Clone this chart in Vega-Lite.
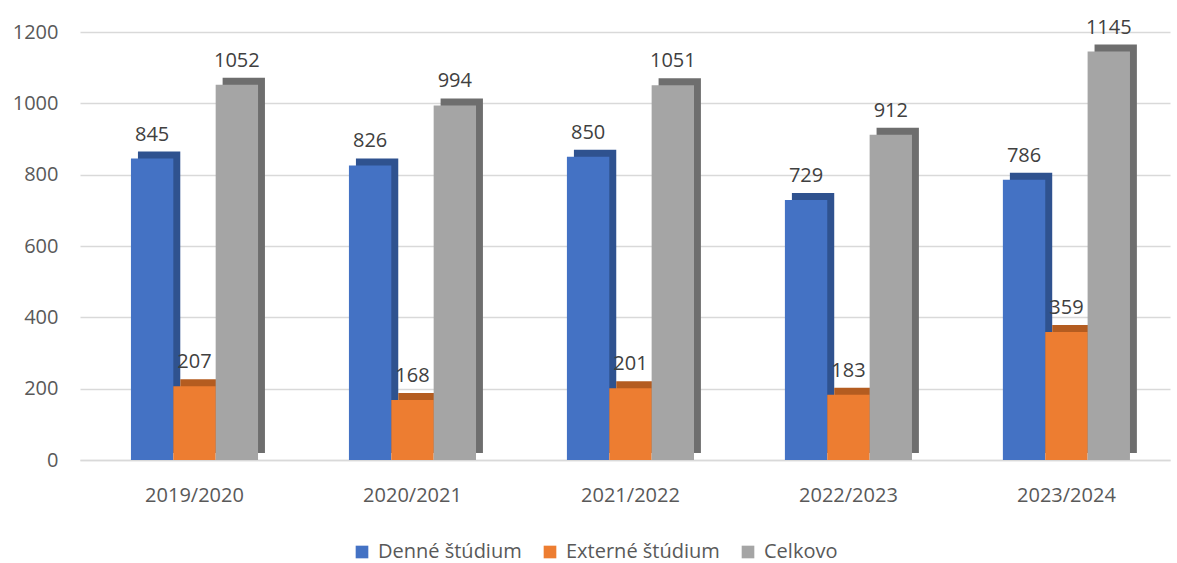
{
  "$schema": "https://vega.github.io/schema/vega-lite/v6.json",
  "width": 1090,
  "height": 428,
  "autosize": {"type": "none"},
  "padding": {"left": 80, "top": 32, "right": 7, "bottom": 103},
  "background": "white",
  "config": {
    "view": {"stroke": null},
    "font": "Open Sans"
  },
  "data": {
    "values": [
      {"rok": "2019/2020", "typ": "Denné štúdium", "pocet": 845},
      {"rok": "2019/2020", "typ": "Externé štúdium", "pocet": 207},
      {"rok": "2019/2020", "typ": "Celkovo", "pocet": 1052},
      {"rok": "2020/2021", "typ": "Denné štúdium", "pocet": 826},
      {"rok": "2020/2021", "typ": "Externé štúdium", "pocet": 168},
      {"rok": "2020/2021", "typ": "Celkovo", "pocet": 994},
      {"rok": "2021/2022", "typ": "Denné štúdium", "pocet": 850},
      {"rok": "2021/2022", "typ": "Externé štúdium", "pocet": 201},
      {"rok": "2021/2022", "typ": "Celkovo", "pocet": 1051},
      {"rok": "2022/2023", "typ": "Denné štúdium", "pocet": 729},
      {"rok": "2022/2023", "typ": "Externé štúdium", "pocet": 183},
      {"rok": "2022/2023", "typ": "Celkovo", "pocet": 912},
      {"rok": "2023/2024", "typ": "Denné štúdium", "pocet": 786},
      {"rok": "2023/2024", "typ": "Externé štúdium", "pocet": 359},
      {"rok": "2023/2024", "typ": "Celkovo", "pocet": 1145}
    ]
  },
  "encoding": {
    "x": {
      "field": "rok", "type": "nominal", "title": null,
      "scale": {"paddingInner": 0.417, "paddingOuter": 0.2087, "align": 0.56},
      "axis": {"labelAngle": 0, "labelFontSize": 20, "labelColor": "#595959", "labelPadding": 25, "ticks": false, "domainColor": "#D9D9D9", "domainWidth": 1.5}
    },
    "y": {
      "field": "pocet", "type": "quantitative", "title": null,
      "scale": {"domain": [0, 1200], "nice": false},
      "axis": {"values": [0, 200, 400, 600, 800, 1000, 1200], "format": "d", "labelFontSize": 20, "labelColor": "#595959", "labelPadding": 22, "ticks": false, "domain": false, "gridColor": "#D9D9D9", "gridWidth": 1.5}
    }
  },
  "resolve": {"scale": {"xOffset": "independent"}},
  "layer": [
    {
      "mark": {"type": "bar", "yOffset": -7},
      "encoding": {
        "xOffset": {
          "field": "typ", "type": "nominal",
          "sort": ["Denné štúdium", "Externé štúdium", "Celkovo"],
          "scale": {"paddingInner": 0, "paddingOuter": 0, "range": [7, 134]}
        },
        "color": {
          "condition": [
            {"test": "datum.typ === 'Denné štúdium'", "value": "#2F528F"},
            {"test": "datum.typ === 'Externé štúdium'", "value": "#B45C20"}
          ],
          "value": "#6E6E6E"
        }
      }
    },
    {
      "layer": [
        {
          "mark": {"type": "bar"},
          "encoding": {
            "color": {
              "field": "typ", "type": "nominal",
              "scale": {"domain": ["Denné štúdium", "Externé štúdium", "Celkovo"], "range": ["#4472C4", "#ED7D31", "#A5A5A5"]},
              "legend": {"title": null, "orient": "none", "direction": "horizontal", "legendX": 272, "legendY": 510, "symbolType": "square", "symbolSize": 160, "symbolStrokeWidth": 0, "labelFontSize": 20, "labelColor": "#595959", "columnPadding": 18, "labelOffset": 6}
            }
          }
        },
        {
          "mark": {"type": "text", "baseline": "bottom", "dy": -14, "fontSize": 20, "color": "#404040"},
          "encoding": {"text": {"field": "pocet", "type": "quantitative"}}
        }
      ],
      "encoding": {
        "xOffset": {
          "field": "typ", "type": "nominal",
          "sort": ["Denné štúdium", "Externé štúdium", "Celkovo"],
          "scale": {"paddingInner": 0, "paddingOuter": 0}
        }
      }
    }
  ]
}
